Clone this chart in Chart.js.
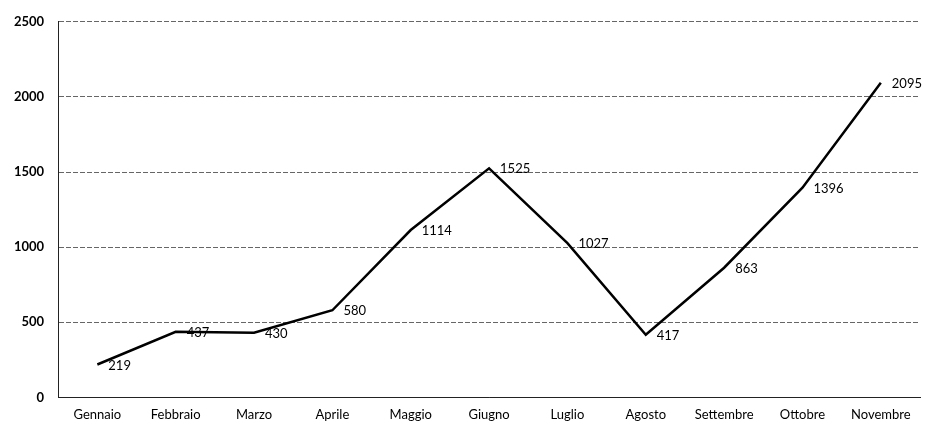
<!DOCTYPE html>
<html>
<head>
<meta charset="utf-8">
<script src="https://cdn.jsdelivr.net/npm/chart.js@4/dist/chart.umd.min.js"></script>
<style>
  html, body { margin: 0; padding: 0; background: #fff; }
  #wrap { width: 926px; height: 425px; }
</style>
</head>
<body>
<div id="wrap"><canvas id="chart"></canvas></div>
<script>
const months = ['Gennaio', 'Febbraio', 'Marzo', 'Aprile', 'Maggio', 'Giugno',
                'Luglio', 'Agosto', 'Settembre', 'Ottobre', 'Novembre'];
const values = [219, 437, 430, 580, 1114, 1525, 1027, 417, 863, 1396, 2095];
const yTicks = [0, 500, 1000, 1500, 2000, 2500];

// labels sit just right of each point
const valueLabels = {
    id: 'valueLabels',
    afterDatasetsDraw(chart) {
        const ctx = chart.ctx;
        const meta = chart.getDatasetMeta(0);
        ctx.save();
        ctx.font = '13px Lato';
        ctx.fillStyle = '#000';
        ctx.textAlign = 'left';
        ctx.textBaseline = 'middle';
        meta.data.forEach((pt, i) => {
            ctx.fillText(String(values[i]), pt.x + 11, pt.y + 1);
        });
        ctx.restore();
    }
};

new Chart(document.getElementById('chart'), {
    type: 'line',
    data: {
        labels: months,
        datasets: [{
            data: values,
            borderColor: '#000',
            borderWidth: 2.5,
            pointRadius: 0,
            tension: 0
        }]
    },
    options: {
        responsive: true,
        maintainAspectRatio: false,
        animation: false,
        layout: { padding: { top: 12, right: 6, bottom: -8, left: 0 } },
        plugins: {
            legend: { display: false },
            tooltip: { enabled: false }
        },
        scales: {
            x: {
                offset: true,
                grid: { display: false, drawTicks: false },
                border: { color: '#222', dash: [5, 2] },
                ticks: { color: '#000', font: { family: 'Lato', size: 13 }, padding: 10, maxRotation: 0 }
            },
            y: {
                min: 0,
                max: 2500,
                afterBuildTicks(axis) {
                    axis.ticks = yTicks.map(v => ({ value: v }));
                },
                grid: { color: '#666', drawTicks: false },
                border: { color: '#222', dash: [5, 2] },
                ticks: {
                    color: '#000',
                    font: { family: 'Lato', size: 13, weight: 'bold' },
                    padding: 14,
                    callback: v => String(v)
                }
            }
        }
    },
    plugins: [valueLabels]
});
</script>
</body>
</html>
